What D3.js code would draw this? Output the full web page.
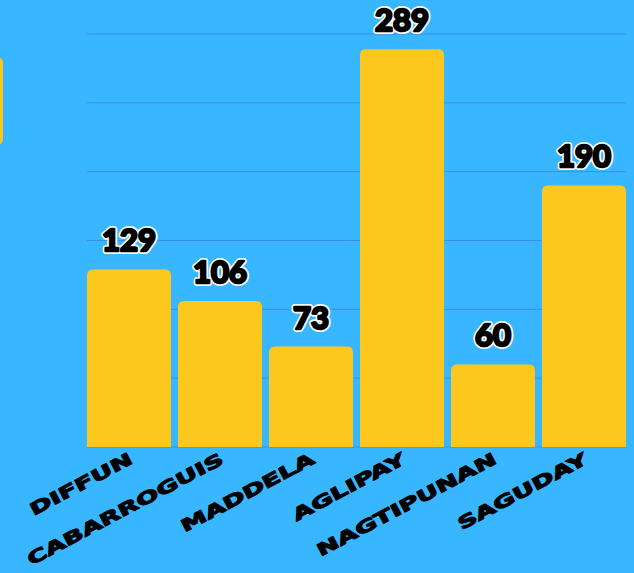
<!DOCTYPE html>
<html>
<head>
<meta charset="utf-8">
<script src="https://cdn.jsdelivr.net/npm/d3@7"></script>
<style>
  html, body { margin: 0; padding: 0; background: #38b6ff; }
  svg { display: block; }
</style>
</head>
<body>
<svg id="chart" width="634" height="573"></svg>
<script>
const categories = ["DIFFUN", "CABARROGUIS", "MADDELA", "AGLIPAY", "NAGTIPUNAN", "SAGUDAY"];
const values = [129, 106, 73, 289, 60, 190];
const gridTicks = [0, 50, 100, 150, 200, 250, 300];

const W = 634, H = 573;
const svg = d3.select("#chart");

svg.append("rect").attr("width", W).attr("height", H).attr("fill", "#38b6ff");

// partial legend/box at left edge
svg.append("rect")
  .attr("x", -20).attr("y", 57).attr("width", 23).attr("height", 88)
  .attr("rx", 6).attr("fill", "#fdc81e");

const x = d3.scaleBand().domain(categories).range([87, 626])
  .paddingInner(0.077).paddingOuter(0);
const y = d3.scaleLinear().domain([0, 300]).range([447, 34]);

// gridlines
svg.append("g").selectAll("line").data(gridTicks).join("line")
  .attr("x1", 87).attr("x2", 626)
  .attr("y1", d => y(d)).attr("y2", d => y(d))
  .attr("stroke", "#3f8cf0").attr("stroke-width", 1);

// bars with rounded top corners
const r = 6;
svg.append("g").selectAll("path").data(values).join("path")
  .attr("fill", "#fdc81e")
  .attr("d", (d, i) => {
    const x0 = x(categories[i]), w = x.bandwidth();
    const y0 = y(d), yb = y(0);
    return `M${x0},${yb}V${y0 + r}Q${x0},${y0} ${x0 + r},${y0}H${x0 + w - r}Q${x0 + w},${y0} ${x0 + w},${y0 + r}V${yb}Z`;
  });

// value labels: white outline layer + heavy black layer
const lab = svg.append("g");
function valueLayer(stroke, sw) {
  lab.append("g").selectAll("text").data(values).join("text")
    .attr("x", (d, i) => x(categories[i]) + x.bandwidth() / 2)
    .attr("y", d => y(d) - 18)
    .attr("text-anchor", "middle")
    .attr("font-family", "Lato, sans-serif")
    .attr("font-weight", "bold")
    .attr("font-size", 31)
    .attr("fill", "#000")
    .attr("stroke", stroke)
    .attr("stroke-width", sw)
    .attr("stroke-linejoin", "round")
    .text(d => d);
}
valueLayer("#fff", 6);
valueLayer("#000", 2.6);

// category labels
svg.append("g").selectAll("text").data(categories).join("text")
  .attr("transform", d => `translate(${x(d) + x.bandwidth() / 2 - 1},452) rotate(-28) scale(1.58,1)`)
  .attr("text-anchor", "end")
  .attr("dy", "0.72em")
  .attr("font-family", "'DejaVu Sans', sans-serif")
  .attr("font-weight", "bold")
  .attr("font-size", 17)
  .attr("fill", "#000")
  .attr("stroke", "#000")
  .attr("stroke-width", 1.1)
  .attr("stroke-linejoin", "round")
  .text(d => d);
</script>
</body>
</html>
